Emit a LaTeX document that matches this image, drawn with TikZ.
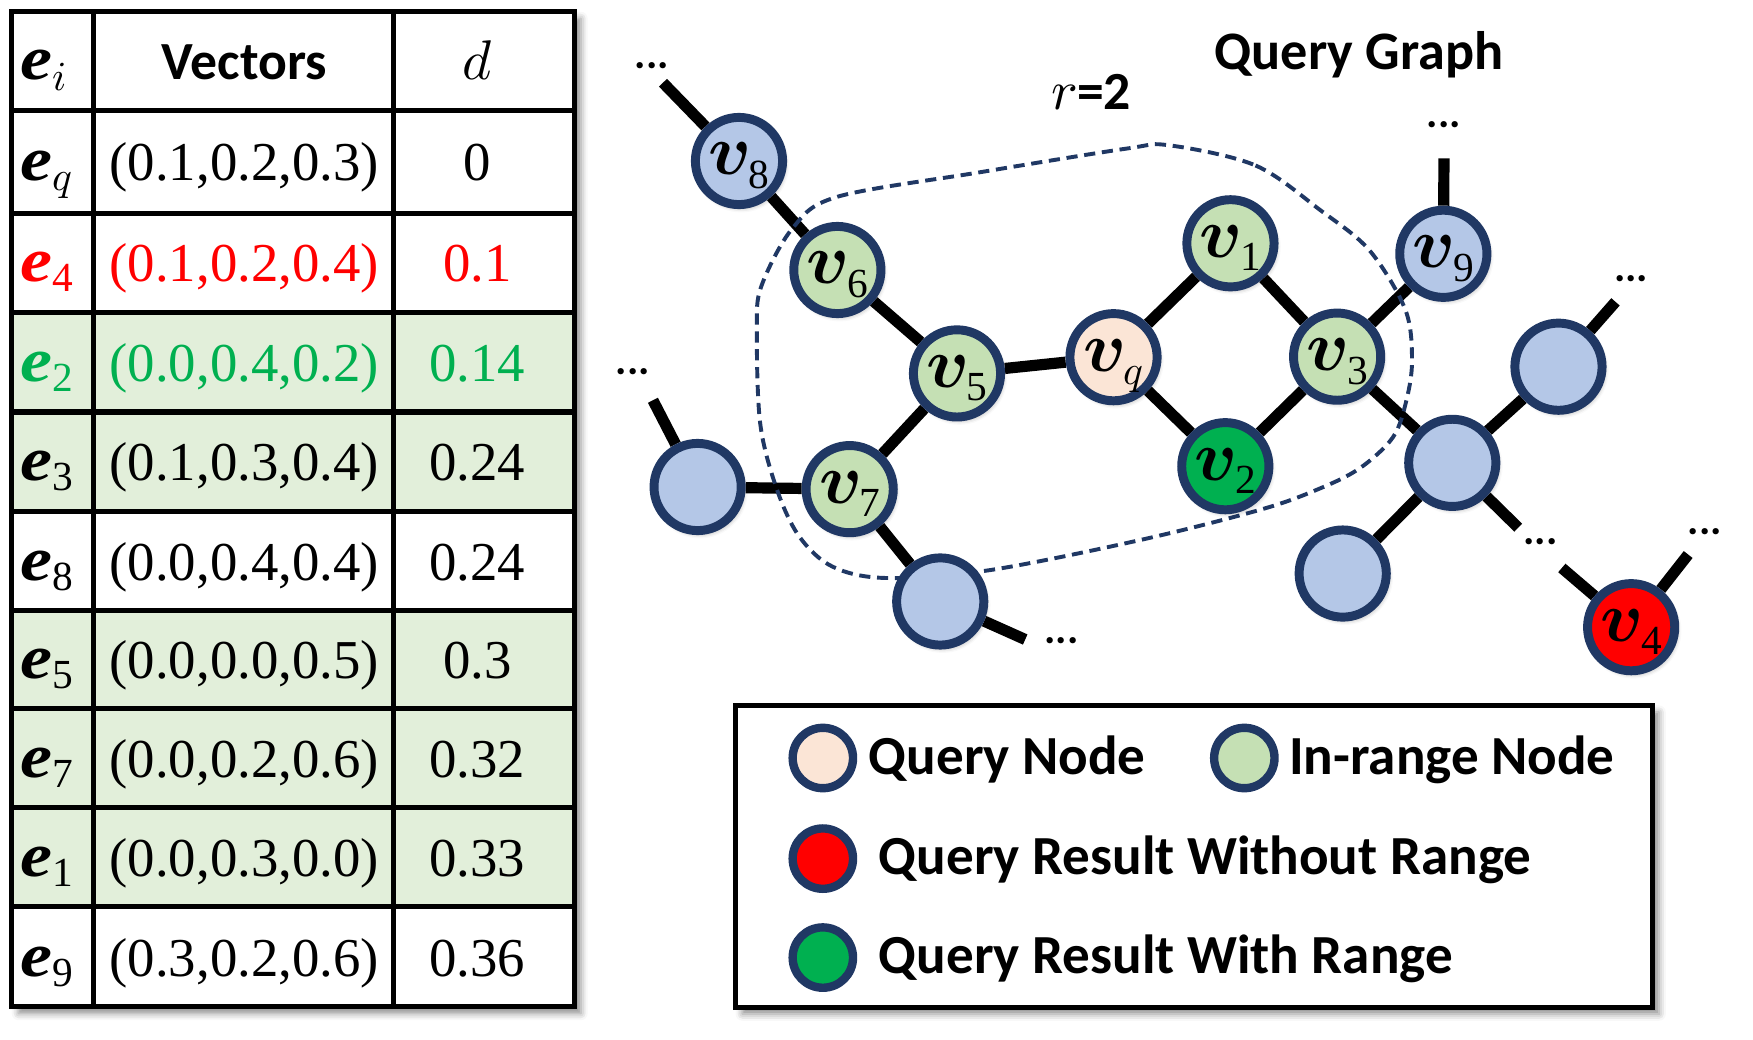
\documentclass[tikz,border=0pt]{standalone}
\usepackage{amsmath}
\usepackage{unicode-math}
\setmainfont{Liberation Serif}
\newfontfamily\calb{Carlito}
\usetikzlibrary{shadows.blur}
\definecolor{navy}{HTML}{203864}
\definecolor{nblue}{HTML}{B4C7E7}
\definecolor{ngreen}{HTML}{C5E0B4}
\definecolor{npeach}{HTML}{FBE5D6}
\definecolor{dgreen}{HTML}{00B050}
\definecolor{rowgreen}{HTML}{E2EFDA}
\definecolor{tred}{HTML}{FF0000}
\newcommand\vlab[1]{{\fontsize{64}{64}\selectfont$\symbfit{v}$}\raisebox{-12pt}{\fontsize{37}{37}\selectfont #1}}
\newcommand\ecell[1]{\scalebox{1.15}[1]{\fontsize{56}{56}\selectfont\bfseries\itshape e}\raisebox{-9pt}{\fontsize{37}{37}\selectfont #1}}
\tikzset{
  gshape/.style={circle, minimum size=78pt, inner sep=0pt, line width=8pt},
  gnode/.style={gshape, draw=navy,
    text height=25pt, text depth=0pt,
    blur shadow={shadow xshift=2pt, shadow yshift=-3pt, shadow blur radius=4pt, shadow opacity=35}},
  lcirc/.style={circle, draw=navy, line width=7.5pt, minimum size=54pt, inner sep=0pt},
  gline/.style={draw=black, line width=10pt},
  tline/.style={line width=4.5pt},
  numtxt/.style={anchor=base, font=\fontsize{49}{49}\selectfont},
  etxt/.style={anchor=base west},
  dots/.style={anchor=base, font=\calb\bfseries\fontsize{38}{38}\selectfont, inner sep=0pt},
  legtxt/.style={anchor=base west, font=\calb\bfseries\fontsize{49.3}{49.3}\selectfont, inner sep=0pt},
}
\begin{document}
\begin{tikzpicture}[x=1pt, y=-1pt]
\useasboundingbox (0,0) rectangle (1568,930);

% ---------------- table ----------------
\fill[white, blur shadow={shadow xshift=6pt, shadow yshift=-6pt, shadow blur radius=6pt, shadow opacity=45}] (10.5,10.5) rectangle (513.6,900.5);
\fill[rowgreen] (10.5,279.5) rectangle (513.6,457.5);
\fill[rowgreen] (10.5,546) rectangle (513.6,811);
\draw[tline] (10.5,10.5) rectangle (513.6,900.5);
\foreach \yy in {98.5,191,279.5,368.5,457.5,546,634,722.5,811}
  \draw[tline] (10.5,\yy) -- (513.6,\yy);
\foreach \xx in {84,352}
  \draw[tline] (\xx,10.5) -- (\xx,900.5);

% header
\node[etxt] (h1) at (15,71.5) {\ecell{$i$}};
\node[anchor=base, font=\calb\bfseries\fontsize{48}{48}\selectfont] (h2) at (218.5,71) {Vectors};
\node[anchor=base] (h3) at (427,71) {\fontsize{50}{50}\selectfont$d$};

% rows
\node[etxt] (r1a) at (15,161.5) {\ecell{$q$}};
\node[numtxt] (r1b) at (218.5,161.5) {(0.1,0.2,0.3)};
\node[numtxt] (r1c) at (427,161.5) {0};

\node[etxt, text=tred] (r2a) at (15,252) {\ecell{4}};
\node[numtxt, text=tred] (r2b) at (218.5,252) {(0.1,0.2,0.4)};
\node[numtxt, text=tred] (r2c) at (427,252) {0.1};

\node[etxt, text=dgreen] (r3a) at (15,341) {\ecell{2}};
\node[numtxt, text=dgreen] (r3b) at (218.5,341) {(0.0,0.4,0.2)};
\node[numtxt, text=dgreen] (r3c) at (427,341) {0.14};

\node[etxt] (r4a) at (15,430) {\ecell{3}};
\node[numtxt] (r4b) at (218.5,430) {(0.1,0.3,0.4)};
\node[numtxt] (r4c) at (427,430) {0.24};

\node[etxt] (r5a) at (15,519) {\ecell{8}};
\node[numtxt] (r5b) at (218.5,519) {(0.0,0.4,0.4)};
\node[numtxt] (r5c) at (427,519) {0.24};

\node[etxt] (r6a) at (15,607) {\ecell{5}};
\node[numtxt] (r6b) at (218.5,607) {(0.0,0.0,0.5)};
\node[numtxt] (r6c) at (427,607) {0.3};

\node[etxt] (r7a) at (15,695) {\ecell{7}};
\node[numtxt] (r7b) at (218.5,695) {(0.0,0.2,0.6)};
\node[numtxt] (r7c) at (427,695) {0.32};

\node[etxt] (r8a) at (15,784) {\ecell{1}};
\node[numtxt] (r8b) at (218.5,784) {(0.0,0.3,0.0)};
\node[numtxt] (r8c) at (427,784) {0.33};

\node[etxt] (r9a) at (15,873) {\ecell{9}};
\node[numtxt] (r9b) at (218.5,873) {(0.3,0.2,0.6)};
\node[numtxt] (r9c) at (427,873) {0.36};

% ---------------- graph ----------------
\node[anchor=base, font=\calb\bfseries\fontsize{48.5}{48.5}\selectfont] (title) at (1215.5,62) {Query Graph};
\node[anchor=base] (rlab) at (976,98) {{\fontsize{50}{50}\selectfont$r$}{\calb\bfseries\fontsize{48}{48}\selectfont =2}};

% node placeholders (for routing the links)
\node[gshape] (v8) at (661,144) {};
\node[gshape] (v6) at (749,241.5) {};
\node[gshape] (v5) at (856,334) {};
\node[gshape] (vq) at (996,319.5) {};
\node[gshape] (v1) at (1100.6,217.6) {};
\node[gshape] (v3) at (1196,319) {};
\node[gshape] (v2) at (1096,417) {};
\node[gshape] (v9) at (1291,227) {};
\node[gshape] (v7) at (760,437.5) {};
\node[gshape] (b1) at (624,435.6) {};
\node[gshape] (b2) at (841,538) {};
\node[gshape] (b3) at (1299,414) {};
\node[gshape] (b4) at (1394,328) {};
\node[gshape] (b5) at (1201,513) {};
\node[gshape] (v4) at (1459,561) {};

\coordinate (d8) at (593,74);
\coordinate (d9) at (1291.6,141.6);
\coordinate (d4t) at (1445,270);
\coordinate (d3) at (1358,472);
\coordinate (d4l) at (1397,508);
\coordinate (d4r) at (1510,496);
\coordinate (d2) at (917,572);
\coordinate (d1) at (584,358);

\draw[gline] (v8) -- (d8);
\draw[gline] (v8) -- (v6);
\draw[gline] (v6) -- (v5);
\draw[gline] (v5) -- (vq);
\draw[gline] (v5) -- (v7);
\draw[gline] (vq) -- (v1);
\draw[gline] (vq) -- (v2);
\draw[gline] (v1) -- (v3);
\draw[gline] (v2) -- (v3);
\draw[gline] (v3) -- (v9);
\draw[gline] (v9) -- (d9);
\draw[gline] (v3) -- (b3);
\draw[gline] (b3) -- (b4);
\draw[gline] (b4) -- (d4t);
\draw[gline] (b3) -- (b5);
\draw[gline] (b3) -- (d3);
\draw[gline] (v7) -- (b1);
\draw[gline] (b1) -- (d1);
\draw[gline] (v7) -- (b2);
\draw[gline] (b2) -- (d2);
\draw[gline] (v4) -- (d4l);
\draw[gline] (v4) -- (d4r);

\draw[navy, line width=3.5pt, dash pattern=on 10pt off 6pt]
  plot[smooth cycle, tension=0.55] coordinates {
  (1046,130) (1123,148) (1181,188) (1225,224) (1257,277) (1263,322) (1258,358)
  (1246,391) (1216,419) (1178,438) (1127,456) (1020,483) (885,510) (793,517)
  (745,507) (715,480) (695,438) (680,379) (677,295) (681,256) (709,204)
  (749,176) (877,154) (1007,133)};

% visible nodes
\node[gnode, fill=nblue] (v8) at (v8.center) {\vlab{8}};
\node[gnode, fill=ngreen] (v6) at (v6.center) {\vlab{6}};
\node[gnode, fill=ngreen] (v5) at (v5.center) {\vlab{5}};
\node[gnode, fill=npeach] (vq) at (vq.center) {{\fontsize{64}{64}\selectfont$\symbfit{v}$}\raisebox{-12pt}{\fontsize{37}{37}\selectfont$q$}};
\node[gnode, fill=ngreen] (v1) at (v1.center) {\vlab{1}};
\node[gnode, fill=ngreen] (v3) at (v3.center) {\vlab{3}};
\node[gnode, fill=dgreen] (v2) at (v2.center) {\vlab{2}};
\node[gnode, fill=nblue] (v9) at (v9.center) {\vlab{9}};
\node[gnode, fill=ngreen] (v7) at (v7.center) {\vlab{7}};
\node[gnode, fill=nblue] (b1) at (b1.center) {};
\node[gnode, fill=nblue] (b2) at (b2.center) {};
\node[gnode, fill=nblue] (b3) at (b3.center) {};
\node[gnode, fill=nblue] (b4) at (b4.center) {};
\node[gnode, fill=nblue] (b5) at (b5.center) {};
\node[gnode, fill=tred] (v4) at (v4.center) {\vlab{4}};

\node[dots] (t8) at (583,61) {...};
\node[dots] (t9) at (1291.5,114) {...};
\node[dots] (t4t) at (1459,252) {...};
\node[dots] (t3) at (1378,487) {...};
\node[dots] (t4r) at (1525,478) {...};
\node[dots] (t2) at (949.5,576) {...};
\node[dots] (t1) at (566,335) {...};

% ---------------- legend ----------------
\draw[line width=5pt, fill=white, blur shadow={shadow xshift=6pt, shadow yshift=-6pt, shadow blur radius=6pt, shadow opacity=45}] (658,631) rectangle (1478,901);
\node[lcirc, fill=npeach] (l1) at (736,678) {};
\node[lcirc, fill=ngreen] (l2) at (1113,678) {};
\node[lcirc, fill=tred] (l3) at (736,768) {};
\node[lcirc, fill=dgreen] (l4) at (736,856.5) {};
\node[legtxt] (lt1) at (777,693) {Query Node};
\node[legtxt] (lt2) at (1153,693) {In-range Node};
\node[legtxt] (lt3) at (786,782.5) {Query Result Without Range};
\node[legtxt] (lt4) at (786,871) {Query Result With Range};
\end{tikzpicture}
\end{document}
